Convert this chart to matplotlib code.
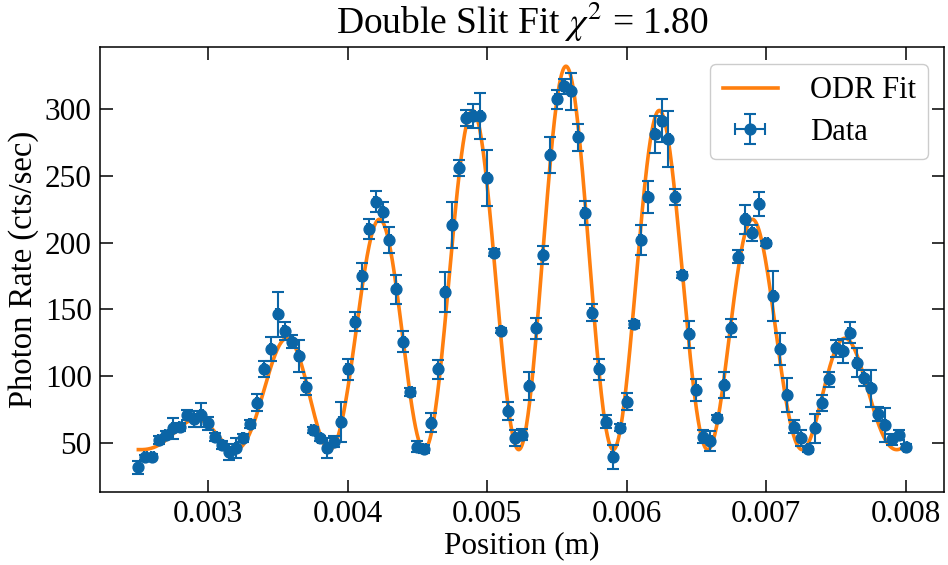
import numpy as np
import matplotlib
matplotlib.use("Agg")
import matplotlib.pyplot as plt
from matplotlib.ticker import FormatStrFormatter

plt.rcParams['font.family'] = ['Liberation Serif', 'DejaVu Serif']
plt.rcParams['mathtext.fontset'] = 'stix'

# --- data (position in m, photon rate in cts/sec) ---
position_m = [
    0.00250, 0.00255, 0.00260, 0.00265, 0.00270, 0.00275, 0.00280, 0.00285, 0.00290, 0.00295,
    0.00300, 0.00305, 0.00310, 0.00315, 0.00320, 0.00325, 0.00330, 0.00335, 0.00340, 0.00345,
    0.00350, 0.00355, 0.00360, 0.00365, 0.00370, 0.00375, 0.00380, 0.00385, 0.00390, 0.00395,
    0.00400, 0.00405, 0.00410, 0.00415, 0.00420, 0.00425, 0.00430, 0.00435, 0.00440, 0.00445,
    0.00450, 0.00455, 0.00460, 0.00465, 0.00470, 0.00475, 0.00480, 0.00485, 0.00490, 0.00495,
    0.00500, 0.00505, 0.00510, 0.00515, 0.00520, 0.00525, 0.00530, 0.00535, 0.00540, 0.00545,
    0.00550, 0.00555, 0.00560, 0.00565, 0.00570, 0.00575, 0.00580, 0.00585, 0.00590, 0.00595,
    0.00600, 0.00605, 0.00610, 0.00615, 0.00620, 0.00625, 0.00630, 0.00635, 0.00640, 0.00645,
    0.00650, 0.00655, 0.00660, 0.00665, 0.00670, 0.00675, 0.00680, 0.00685, 0.00690, 0.00695,
    0.00700, 0.00705, 0.00710, 0.00715, 0.00720, 0.00725, 0.00730, 0.00735, 0.00740, 0.00745,
    0.00750, 0.00755, 0.00760, 0.00765, 0.00770, 0.00775, 0.00780, 0.00785, 0.00790, 0.00795,
    0.00800,
]
photon_rate = [
    31.8, 39.3, 39.7, 52.2, 56.0, 61.0, 62.2, 71.0, 67.7, 71.0,
    64.7, 54.7, 48.5, 43.5, 46.0, 53.5, 64.0, 80.2, 105.2, 120.1,
    146.3, 133.8, 125.8, 115.1, 92.1, 59.7, 53.5, 46.0, 51.0, 66.0,
    105.2, 140.8, 175.0, 210.0, 230.6, 223.1, 202.0, 165.0, 125.8, 88.0,
    47.2, 45.3, 65.2, 105.2, 163.2, 213.2, 255.6, 293.0, 294.8, 294.8,
    248.1, 192.4, 134.0, 74.0, 53.5, 56.3, 92.7, 135.9, 190.7, 265.6,
    307.2, 317.0, 313.3, 278.8, 222.0, 147.5, 105.2, 66.0, 39.7, 61.5,
    80.9, 138.8, 202.0, 234.4, 281.0, 291.2, 277.3, 233.9, 175.7, 131.4,
    89.7, 54.7, 51.6, 68.9, 93.4, 136.1, 189.4, 217.4, 207.4, 228.7,
    199.5, 160.0, 120.1, 85.9, 62.2, 53.5, 45.3, 61.0, 80.2, 97.7,
    120.9, 119.1, 132.6, 110.1, 98.9, 90.9, 71.7, 63.5, 52.8, 56.0,
    47.2,
]
rate_err = [
    5, 2, 2, 3, 3, 8, 3, 4, 6, 9,
    5, 3, 3, 6, 7.5, 3, 3, 6.5, 6, 9,
    17, 7, 5, 12, 6.5, 2, 2, 7.5, 4, 15,
    8, 7, 9.5, 7.5, 8, 7.5, 10, 11, 8, 3,
    4, 3, 7, 7, 15, 17.5, 6, 6, 9, 17,
    21, 2.5, 2, 7, 6, 4, 10.5, 8, 7, 13.5,
    7, 5.5, 14, 10, 9, 6.5, 8, 5, 9, 2.5,
    6.5, 2.5, 11, 12, 14, 16, 21, 6, 2, 10,
    8, 5, 7.5, 2, 10, 7, 5, 11, 6, 9,
    2, 18.5, 12, 13, 5, 6, 2, 11, 6, 5.5,
    6.5, 9, 8, 11, 6, 14, 5, 13, 4, 4,
    2,
]
position_err = 1.0e-5

# ODR fit parameters (double-slit model)
fit_amplitude = 287.0      # cts/sec
fit_background = 45.0      # cts/sec
fit_center = 0.005565      # m
fit_envelope_k = 895.0     # rad/m (single-slit envelope)
fit_fringe_k = 4637.0      # rad/m (two-slit fringes)
fit_range = (0.0025, 0.0080)
chi2_text = "1.80"

tick_x = [0.003, 0.004, 0.005, 0.006, 0.007, 0.008]
tick_y = [50, 100, 150, 200, 250, 300]

blue = '#0b65a6'
orange = '#ff7f0e'

fig = plt.figure(figsize=(9.48, 5.65), dpi=100)
ax = fig.add_axes([0.1055, 0.1292, 0.8903, 0.7881])

ax.errorbar(position_m, photon_rate, yerr=rate_err, xerr=position_err,
            fmt='o', color=blue, ms=7.8, elinewidth=1.5, capsize=4, capthick=1.5,
            label='Data', zorder=3)

xf = np.linspace(fit_range[0], fit_range[1], 2000)
u = fit_envelope_k * (xf - fit_center)
yf = fit_background + fit_amplitude * np.sinc(u / np.pi) ** 2 * np.cos(fit_fringe_k * (xf - fit_center)) ** 2
ax.plot(xf, yf, color=orange, lw=2.6, label='ODR Fit', zorder=2)

ax.set_xlim(0.002225, 0.008275)
ax.set_ylim(13.3, 346.6)
ax.set_xticks(tick_x)
ax.set_yticks(tick_y)
ax.xaxis.set_major_formatter(FormatStrFormatter('%.3f'))

ax.tick_params(direction='in', top=True, right=True, length=9, width=1.1,
               labelsize=22.5, pad=6)
for s in ax.spines.values():
    s.set_linewidth(1.1)

ax.set_xlabel('Position (m)', fontsize=22.5, labelpad=1)
ax.set_ylabel('Photon Rate (cts/sec)', fontsize=23.5, labelpad=4)
ax.set_title(r'Double Slit Fit $\chi^2$ = ' + chi2_text, fontsize=27, pad=9)

handles, labels = ax.get_legend_handles_labels()
order = [labels.index('ODR Fit'), labels.index('Data')]
ax.legend([handles[i] for i in order], [labels[i] for i in order],
          loc='upper right', fontsize=22, frameon=True, fancybox=True,
          framealpha=1.0, edgecolor='#cccccc', handlelength=1.8,
          handletextpad=1.05, borderpad=0.4, labelspacing=0.4,
          bbox_to_anchor=(0.999, 0.995))

fig.savefig('out.png', dpi=100)
